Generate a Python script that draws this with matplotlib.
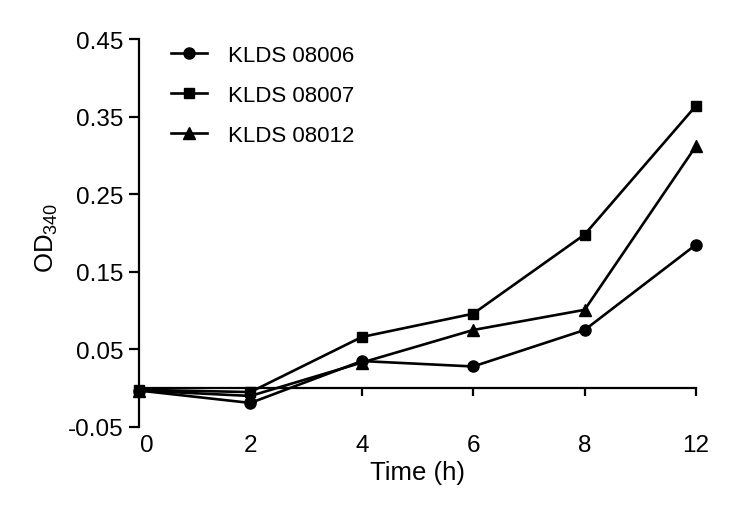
import matplotlib
matplotlib.use("Agg")
import matplotlib.pyplot as plt
import matplotlib.transforms as mtransforms

plt.rcParams['font.family'] = ['Liberation Sans', 'DejaVu Sans']

time_labels = ["0", "2", "4", "6", "8", "12"]
klds_08006 = [-0.003, -0.019, 0.035, 0.028, 0.075, 0.185]
klds_08007 = [-0.002, -0.005, 0.066, 0.096, 0.198, 0.364]
klds_08012 = [-0.003, -0.010, 0.033, 0.075, 0.101, 0.312]
series_names = ["KLDS 08006", "KLDS 08007", "KLDS 08012"]
y_ticks = [-0.05, 0.05, 0.15, 0.25, 0.35, 0.45]

fig = plt.figure(figsize=(7.41, 5.06), dpi=100)
ax = fig.add_axes([139/741, 1 - 428/506, (696-139)/741, (428-40)/506])

x = list(range(len(time_labels)))
lw = 1.9
ax.plot(x, klds_08006, color='black', lw=lw, marker='o', ms=8, label=series_names[0], clip_on=False, zorder=3)
ax.plot(x, klds_08007, color='black', lw=lw, marker='s', ms=7.5, label=series_names[1], clip_on=False, zorder=3)
ax.plot(x, klds_08012, color='black', lw=lw, marker='^', ms=8.5, label=series_names[2], clip_on=False, zorder=3)

ax.set_xlim(0, len(time_labels) - 1)
ax.set_ylim(-0.05, 0.45)
ax.set_yticks(y_ticks)
ax.set_yticklabels([f"{v:.2f}" for v in y_ticks])
ax.set_xticks(x)
ax.set_xticklabels(time_labels)

for s in ['top', 'right']:
    ax.spines[s].set_visible(False)
ax.spines['bottom'].set_position(('data', 0))
ax.spines['left'].set_linewidth(1.6)
ax.spines['bottom'].set_linewidth(1.6)
ax.tick_params(axis='y', length=7, width=1.6, labelsize=17.5, pad=4)
ax.tick_params(axis='x', length=6, width=1.6, labelsize=17.5, pad=27)

# first x tick label sits slightly right of the spine
lbl0 = ax.get_xticklabels()[0]
lbl0.set_transform(lbl0.get_transform() + mtransforms.ScaledTranslation(8/100, 0, fig.dpi_scale_trans))

ax.set_xlabel("Time (h)", fontsize=18.5, labelpad=3)
ax.set_ylabel(r"$\mathregular{OD_{340}}$", fontsize=18.5)
ax.yaxis.set_label_coords(-0.142, 0.49)

leg = ax.legend(loc='upper left', bbox_to_anchor=(0.058, 0.985), frameon=False, fontsize=16,
                handlelength=1.6, handletextpad=0.95, labelspacing=0.85,
                borderpad=0, borderaxespad=0)

fig.savefig("out.png", dpi=100)
